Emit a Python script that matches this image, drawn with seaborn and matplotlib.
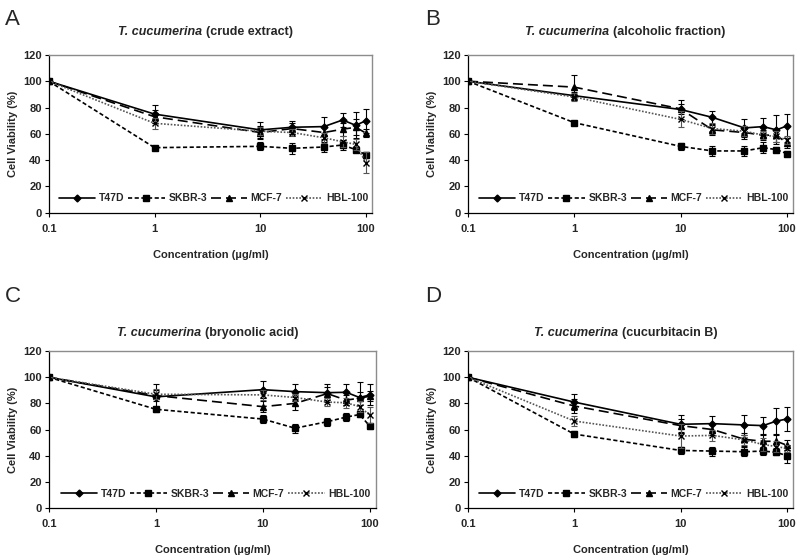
import matplotlib
matplotlib.use("Agg")
import matplotlib.pyplot as plt
from matplotlib.offsetbox import TextArea, HPacker, AnchoredOffsetbox
import seaborn as sns
import pandas as pd

sns.set_style("white")
plt.rcParams['font.family'] = ['Liberation Sans', 'DejaVu Sans']

conc = [0.1, 1, 10, 20, 40, 60, 80, 100]
cell_lines = ["T47D", "SKBR-3", "MCF-7", "HBL-100"]
panel_letters = ["A", "B", "C", "D"]
panel_titles = ["(crude extract)", "(alcoholic fraction)", "(bryonolic acid)", "(cucurbitacin B)"]

# mean viability (%) per cell line
crude_mean = {"T47D": [100, 75, 63, 65, 65.5, 70.5, 66.5, 70],
              "SKBR-3": [100, 49.5, 50.5, 49, 50, 51.5, 48, 44],
              "MCF-7": [100, 73, 61, 64, 61, 63.5, 65, 60.5],
              "HBL-100": [100, 68, 62, 61, 57, 54, 52, 38]}
alcohol_mean = {"T47D": [100, 89, 78.5, 72.5, 64.5, 65.5, 63, 66],
                "SKBR-3": [100, 68.5, 50.5, 47, 47, 49.5, 48, 45],
                "MCF-7": [100, 95.5, 79, 63, 61, 59, 59, 53],
                "HBL-100": [100, 88, 71, 64, 62, 59, 58, 55.5]}
bryonolic_mean = {"T47D": [100, 85, 90.5, 89, 88.2, 88.5, 84.5, 86.5],
                  "SKBR-3": [100, 75.5, 68, 61, 66, 69.5, 71.5, 62.5],
                  "MCF-7": [100, 86, 77.5, 80, 87.5, 82.5, 84, 85.5],
                  "HBL-100": [100, 87, 86.5, 84.5, 81, 80.5, 77.5, 71]}
cucurb_mean = {"T47D": [100, 81, 64, 64.5, 63.5, 63, 66.5, 68],
               "SKBR-3": [100, 56.5, 44, 43.5, 43, 43.5, 42.5, 40],
               "MCF-7": [100, 78, 63, 60, 52.5, 51, 51, 48],
               "HBL-100": [100, 66.5, 55, 55.5, 52, 48.5, 47, 45.5]}

# standard deviations
crude_sd = {"T47D": [0, 7, 6, 5, 7, 5, 10, 9],
            "SKBR-3": [0, 1.5, 3, 4, 4, 4, 2, 2],
            "MCF-7": [0, 5, 5, 4, 5, 5, 6, 3],
            "HBL-100": [0, 4, 3, 3, 4, 4, 4, 8]}
alcohol_sd = {"T47D": [0, 3, 7, 5, 7, 6.5, 11, 9],
              "SKBR-3": [0, 1, 2.5, 4, 3.5, 4, 2, 2],
              "MCF-7": [0, 9, 4, 4, 5, 4, 5, 4],
              "HBL-100": [0, 3, 6, 4, 4, 3, 4, 3]}
bryonolic_sd = {"T47D": [0, 10, 6.5, 5.5, 7, 6.5, 12, 8],
                "SKBR-3": [0, 2, 3, 3.5, 3, 3, 2, 2],
                "MCF-7": [0, 4, 4, 5, 5, 4, 5, 4],
                "HBL-100": [0, 4, 4, 3, 3, 4, 4, 6]}
cucurb_sd = {"T47D": [0, 6, 7, 5.5, 7.5, 6.5, 10, 9],
             "SKBR-3": [0, 2, 3, 3.5, 3.5, 3, 2, 6],
             "MCF-7": [0, 5, 5, 4, 5, 5, 5, 4],
             "HBL-100": [0, 4, 9, 4, 4, 5, 4, 3]}

means = [crude_mean, alcohol_mean, bryonolic_mean, cucurb_mean]
sds = [crude_sd, alcohol_sd, bryonolic_sd, cucurb_sd]

colors = {"T47D": "black", "SKBR-3": "black", "MCF-7": "black", "HBL-100": "#555555"}
styles = {"T47D": "-", "SKBR-3": (0, (2.5, 1.5)), "MCF-7": (0, (6, 3)), "HBL-100": (0, (1, 1))}
markers = {"T47D": "D", "SKBR-3": "s", "MCF-7": "^", "HBL-100": "x"}
msizes = {"T47D": 3.5, "SKBR-3": 5, "MCF-7": 4.5, "HBL-100": 5}

fig = plt.figure(figsize=(8, 5.6), dpi=100)
positions = [[0.061, 0.620, 0.404, 0.282],
             [0.585, 0.620, 0.406, 0.282],
             [0.061, 0.093, 0.409, 0.280],
             [0.585, 0.093, 0.406, 0.280]]

for i in range(4):
    ax = fig.add_axes(positions[i])

    for name in cell_lines:
        df = pd.DataFrame({"conc": conc, "viab": means[i][name]})
        ax.errorbar(conc, means[i][name], yerr=sds[i][name], fmt='none',
                    ecolor=colors[name], elinewidth=0.8, capsize=2.5, capthick=0.8)
        sns.lineplot(data=df, x="conc", y="viab", ax=ax, label=name,
                     color=colors[name], linestyle=styles[name], marker=markers[name],
                     markersize=msizes[name], markeredgewidth=1,
                     markeredgecolor="black", markerfacecolor="black",
                     linewidth=1.2, errorbar=None)

    handles, labels = ax.get_legend_handles_labels()
    ax.legend(handles, labels, loc="lower center", bbox_to_anchor=(0.51, 0.0),
              ncol=4, frameon=False, handlelength=3.5, handletextpad=0.35,
              columnspacing=0.35, prop={"size": 7.5, "weight": "bold"})

    ax.set_xscale("log")
    ax.set_xlim(0.1, 114)
    ax.set_ylim(0, 120)
    ax.set_xticks([0.1, 1, 10, 100])
    ax.set_xticklabels(["0.1", "1", "10", "100"])
    ax.set_yticks(range(0, 121, 20))
    ax.minorticks_off()
    ax.tick_params(axis="both", labelsize=8, direction="out", length=3,
                   width=0.8, color="black", bottom=True, left=True)
    ax.tick_params(axis="x", pad=5)
    ax.tick_params(axis="y", pad=2)
    for t in ax.get_xticklabels() + ax.get_yticklabels():
        t.set_fontweight("bold")
    ax.set_xlabel("Concentration (µg/ml)", fontsize=8, fontweight="bold", labelpad=11.5)
    ax.set_ylabel("Cell Viability (%)", fontsize=8, fontweight="bold", labelpad=4)
    for s in ["left", "bottom"]:
        ax.spines[s].set_color("black")
        ax.spines[s].set_linewidth(0.9)
    for s in ["top", "right"]:
        ax.spines[s].set_color("#8c8c8c")
        ax.spines[s].set_linewidth(1.0)

    # title: italic species name + bold label
    part1 = TextArea("T. cucumerina", textprops=dict(fontsize=9, fontweight="bold",
                                                     fontstyle="italic"))
    part2 = TextArea(panel_titles[i], textprops=dict(fontsize=9, fontweight="bold"))
    box = HPacker(children=[part1, part2], align="baseline", pad=0, sep=3)
    ty = 1.11 if i < 2 else 1.075
    anchored = AnchoredOffsetbox(loc="lower center", child=box, pad=0, borderpad=0,
                                 frameon=False, bbox_to_anchor=(0.485, ty),
                                 bbox_transform=ax.transAxes)
    ax.add_artist(anchored)

    fx = 0.006 if i % 2 == 0 else 0.531
    fy = 0.955 if i < 2 else 0.461
    fig.text(fx, fy, panel_letters[i], fontsize=16, va="baseline")

fig.savefig("out.png", dpi=100)
